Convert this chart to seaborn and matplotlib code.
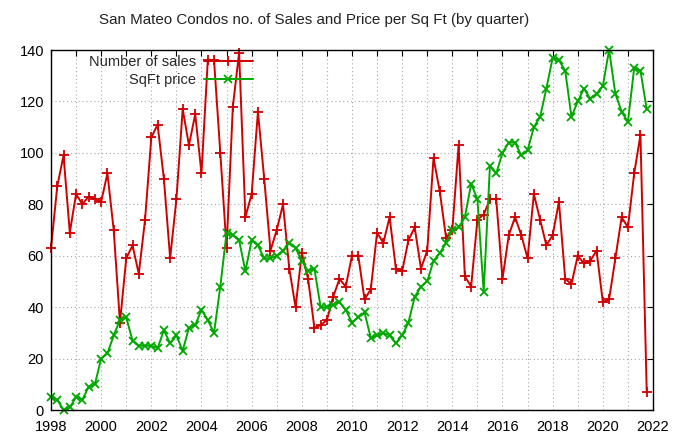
import numpy as np
import pandas as pd
import matplotlib
matplotlib.use('Agg')
import matplotlib.pyplot as plt
from matplotlib.ticker import MultipleLocator
import seaborn as sns

# quarterly data, 1998Q1 .. 2021Q4
quarters = pd.period_range('1998Q1', '2021Q4', freq='Q')

num_sales = [63, 87, 99, 69, 84, 80, 83, 82, 81, 92, 70, 34,
             59, 64, 53, 74, 106, 111, 90, 59, 82, 117, 103, 115,
             92, 136, 136, 100, 63, 118, 139, 75, 84, 116, 90, 62,
             70, 80, 55, 40, 61, 51, 32, 33, 35, 44, 51, 48,
             60, 60, 43, 47, 69, 65, 75, 55, 54, 66, 71, 55,
             62, 98, 85, 67, 70, 103, 52, 48, 74, 76, 82, 82,
             51, 68, 75, 68, 59, 84, 74, 64, 68, 81, 51, 49,
             60, 57, 58, 62, 42, 43, 59, 75, 71, 92, 107, 7]

sqft_price = [5, 4, 0, 1, 5, 4, 9, 10, 20, 22, 29, 35,
              36, 27, 25, 25, 25, 24, 31, 26, 29, 23, 32, 33,
              39, 35, 30, 48, 69, 68, 66, 54, 66, 64, 59, 59,
              60, 62, 65, 63, 58, 54, 55, 40, 40, 41, 42, 39,
              34, 36, 38, 28, 29, 30, 29, 26, 29, 34, 44, 48,
              50, 58, 61, 65, 70, 71, 75, 88, 82, 46, 95, 92,
              100, 104, 104, 99, 101, 110, 114, 125, 137, 136, 132, 114,
              120, 125, 121, 123, 126, 140, 123, 116, 112, 133, 132, 117]

x_ticks = list(range(1998, 2023, 2))
y_ticks = list(range(0, 141, 20))

df = pd.DataFrame({
    't': quarters.year + (quarters.quarter - 1) / 4,
    'sales': num_sales,
    'price': sqft_price,
})

sns.set_theme(style='white')
plt.rcParams['font.family'] = ['Liberation Sans', 'DejaVu Sans']

fig = plt.figure(figsize=(6.79, 4.36), dpi=100)
ax = fig.add_axes([0.0751, 0.0596, 0.8866, 0.8257])

red = '#d00000'
green = '#00a800'

sns.lineplot(data=df, x='t', y='sales', ax=ax, color=red, lw=1.4,
             marker='+', markersize=7, markeredgewidth=1.3, markeredgecolor=red,
             label='Number of sales', clip_on=False, zorder=3)
sns.lineplot(data=df, x='t', y='price', ax=ax, color=green, lw=1.4,
             marker='x', markersize=5.5, markeredgewidth=1.3, markeredgecolor=green,
             label='SqFt price', clip_on=False, zorder=3)

ax.set_xlim(1998, 2022)
ax.set_ylim(0, 140)
ax.set_xticks(x_ticks)
ax.set_yticks(y_ticks)
ax.xaxis.set_minor_locator(MultipleLocator(1))
ax.set_xlabel('')
ax.set_ylabel('')

ax.tick_params(which='both', direction='in', top=True, right=True,
               labelsize=10.5, colors='black', length=4, width=0.8, pad=5)
ax.tick_params(axis='x', pad=7)

for s in ax.spines.values():
    s.set_color('black')
    s.set_linewidth(1.0)
    s.set_zorder(4)

ax.grid(True, which='both', axis='x', color='#a8a8a8', linestyle=(0, (1, 2.5)), lw=0.8)
ax.grid(True, which='major', axis='y', color='#a8a8a8', linestyle=(0, (1, 2.5)), lw=0.8)

leg = ax.legend(loc='upper right', bbox_to_anchor=(0.336, 0.985), frameon=False,
                markerfirst=False, fontsize=10.5, handlelength=3.4,
                handletextpad=0.5, labelspacing=0.25, borderaxespad=0, borderpad=0)

fig.text(0.462, 0.953, 'San Mateo Condos no. of Sales and Price per Sq Ft (by quarter)',
         ha='center', va='center', fontsize=10.9, color='#222222')

fig.savefig('out.png', dpi=100)
